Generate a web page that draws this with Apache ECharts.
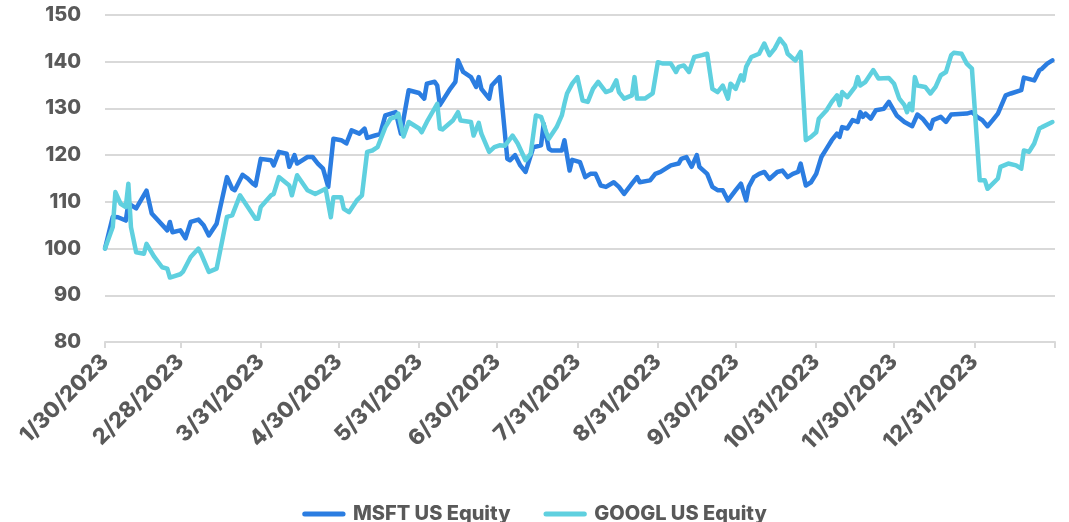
<!DOCTYPE html>
<html>
<head>
<meta charset="utf-8">
<title>MSFT vs GOOGL</title>
<script src="https://cdn.jsdelivr.net/npm/echarts@6/dist/echarts.min.js"></script>
<style>
  html, body { margin: 0; padding: 0; background: #fff; }
  #chart { width: 1069px; height: 522px; }
</style>
</head>
<body>
<div id="chart"></div>
<script>
// x axis: every calendar day from 1/30/2023 to 1/31/2024
const startDate = Date.UTC(2023, 0, 30);
const dayCount = 367;

// labelled ticks on the x axis
const tickLabels = [
  '1/30/2023', '2/28/2023', '3/31/2023', '4/30/2023', '5/31/2023', '6/30/2023',
  '7/31/2023', '8/31/2023', '9/30/2023', '10/31/2023', '11/30/2023', '12/31/2023'
];
const lastTick = '1/31/2024';

const yTicks = { min: 80, max: 150, step: 10 };

// [days since 1/30/2023, indexed value]
const msft = [
  [0, 100], [3, 106.8], [5, 106.7], [8, 106], [9, 109.7], [12, 108.6], [16, 112.4], [18, 107.5],
  [24, 103.9], [25, 105.7], [26, 103.5], [29, 103.9], [31, 102.2], [33, 105.7], [36, 106.2],
  [38, 105], [40, 102.8], [43, 105.3], [47, 115.3], [49, 112.8], [50, 112.5], [53, 115.8],
  [55, 115], [57, 113.9], [58, 113.5], [60, 119.2], [64, 118.9], [65, 117.8], [67, 120.7],
  [70, 120.3], [71, 117.5], [73, 120], [74, 118.2], [78, 119.6], [80, 119.6], [82, 118.2],
  [84, 117.1], [86, 113.2], [88, 123.5], [91, 123.2], [93, 122.5], [95, 125.3], [98, 124.6],
  [100, 125.7], [101, 123.7], [104, 124.2], [106, 124.5], [108, 128.5], [112, 129.2],
  [114, 124.6], [117, 133.9], [121, 133.3], [123, 132.1], [124, 135.3], [127, 135.7],
  [128, 134.9], [129, 130.7], [133, 134.2], [135, 135.7], [136, 140.3], [138, 137.8],
  [141, 136.7], [143, 134.6], [144, 136.7], [145, 134.2], [148, 132.1], [149, 134.9],
  [152, 136.7], [155, 119.2], [156, 118.9], [158, 120], [160, 117.8], [162, 116.4],
  [165, 121.7], [168, 122.1], [169, 126.7], [171, 121.4], [172, 121], [176, 121],
  [177, 123.2], [179, 116.7], [180, 119], [183, 118.5], [185, 115.3], [187, 116], [189, 116],
  [191, 113.5], [193, 113.2], [196, 114.2], [198, 113.2], [200, 111.7], [203, 113.9],
  [205, 115.3], [206, 114.2], [210, 114.6], [212, 116], [214, 116.4], [218, 117.8],
  [221, 118.2], [222, 119.2], [224, 119.6], [226, 117.5], [228, 120], [229, 117.5],
  [232, 116], [234, 113.2], [236, 112.5], [238, 112.5], [240, 110.3], [243, 112.5],
  [245, 113.9], [247, 110.3], [248, 113.2], [250, 115.3], [252, 116], [254, 116.4],
  [256, 114.9], [259, 116.4], [261, 116.7], [263, 115.3], [265, 116], [267, 116.4],
  [268, 118.2], [270, 113.5], [272, 114.2], [274, 116], [276, 119.6], [278, 121.4],
  [280, 123.2], [282, 124.6], [283, 123.9], [284, 126], [286, 125.7], [288, 127.5],
  [290, 127.1], [291, 129.2], [292, 128.2], [293, 128.9], [295, 127.8], [297, 129.6],
  [300, 129.9], [302, 131.4], [305, 128.5], [308, 127.1], [311, 126.2], [313, 128.7],
  [315, 127.8], [318, 125.7], [319, 127.5], [322, 128.2], [324, 127.1], [326, 128.7],
  [332, 128.9], [334, 129.2], [336, 128.2], [338, 127.5], [340, 126.2], [342, 127.5],
  [344, 128.9], [347, 132.8], [349, 133.2], [353, 133.9], [354, 136.6], [358, 136],
  [360, 138.2], [361, 138.5], [363, 139.6], [365, 140.3]
];

const googl = [
  [0, 100], [3, 104.6], [4, 112.1], [6, 109.6], [8, 108.9], [9, 113.9], [10, 104.6],
  [12, 99.2], [15, 98.9], [16, 101], [19, 98.2], [22, 96], [24, 95.7], [25, 93.8],
  [29, 94.5], [30, 95], [33, 98.2], [36, 100], [37, 98.9], [40, 95], [43, 95.7],
  [47, 106.8], [49, 107.1], [52, 111.4], [55, 108.9], [58, 106.4], [59, 106.4],
  [60, 108.9], [64, 111.4], [65, 111.7], [67, 115.3], [71, 113.5], [72, 111.4],
  [74, 115.7], [78, 112.5], [81, 111.7], [85, 112.8], [87, 106.7], [88, 111], [91, 111],
  [92, 108.5], [94, 107.8], [97, 110.3], [99, 111.4], [101, 120.7], [103, 121],
  [105, 121.7], [108, 126], [110, 127.8], [112, 128.2], [113, 128.9], [115, 124],
  [117, 127.1], [119, 126.4], [121, 125.7], [122, 124.9], [124, 127.1], [128, 131],
  [129, 125.7], [130, 125.5], [134, 127.4], [136, 129.2], [137, 127.4], [141, 127.1],
  [142, 124.2], [144, 126.9], [145, 124.6], [148, 120.7], [150, 121.7], [152, 122.1],
  [154, 122], [157, 124.2], [159, 122.5], [162, 118.9], [164, 120.3], [166, 128.5],
  [168, 128.2], [170, 124.9], [171, 123.5], [174, 126], [176, 128.5], [177, 131],
  [178, 133.2], [180, 135.3], [182, 136.7], [184, 131.7], [186, 131.4], [188, 134.2],
  [190, 135.7], [193, 133.5], [195, 133.9], [197, 136], [198, 133.5], [200, 132.1],
  [203, 132.8], [204, 136.7], [205, 132.1], [208, 132.1], [211, 133.2], [213, 139.9],
  [215, 139.6], [218, 139.6], [220, 137.8], [221, 138.9], [223, 139.2], [225, 137.8],
  [227, 141], [230, 141.4], [232, 141.7], [234, 134.2], [236, 133.5], [238, 134.9],
  [240, 132.1], [241, 135.3], [243, 134.2], [245, 137.1], [246, 136], [247, 138.9],
  [249, 141], [252, 141.7], [254, 143.9], [256, 141.4], [258, 142.8], [260, 144.9],
  [262, 143.5], [263, 141.7], [265, 140.7], [266, 140.3], [268, 142.1], [270, 123.2],
  [272, 123.9], [274, 124.9], [275, 127.8], [278, 129.6], [280, 131.4], [282, 132.8],
  [283, 130.7], [284, 133.5], [286, 132.4], [289, 134.6], [290, 136.7], [291, 134.9],
  [293, 135.7], [296, 138.2], [298, 136.4], [302, 136.5], [304, 135.3], [306, 132.1],
  [308, 130.7], [309, 129.2], [310, 131], [311, 129.6], [312, 136.7], [313, 134.9],
  [316, 134.6], [318, 133.2], [320, 134.6], [322, 137.1], [324, 137.8], [326, 141.4],
  [327, 141.9], [330, 141.7], [332, 139.6], [334, 138.5], [337, 114.6], [339, 114.6],
  [340, 112.8], [344, 115], [345, 117.5], [348, 118.2], [351, 117.8], [353, 117.1],
  [354, 121], [356, 120.7], [358, 122.5], [360, 125.7], [361, 126], [365, 127.1]
];

const seriesNames = ['MSFT US Equity', 'GOOGL US Equity'];
const seriesColors = ['#2b7de1', '#5fd0df'];

// build the calendar categories
const categories = [];
for (let i = 0; i < dayCount; i++) {
  const d = new Date(startDate + i * 86400000);
  categories.push((d.getUTCMonth() + 1) + '/' + d.getUTCDate() + '/' + d.getUTCFullYear());
}

const textColor = '#595959';
const gridColor = '#d9d9d9';
const fontFamily = 'Inter, "Open Sans", sans-serif';

const chart = echarts.init(document.getElementById('chart'), null, { renderer: 'canvas' });

chart.setOption({
  animation: false,
  color: seriesColors,
  grid: { left: 105, right: 14, top: 15, bottom: 180, containLabel: false },
  xAxis: {
    type: 'category',
    data: categories,
    boundaryGap: false,
    axisLine: { lineStyle: { color: gridColor, width: 2 } },
    axisTick: {
      show: true,
      length: 6,
      lineStyle: { color: gridColor, width: 2 },
      interval: (i, v) => tickLabels.includes(v) || v === lastTick
    },
    axisLabel: {
      rotate: 45,
      margin: 16,
      color: textColor,
      fontFamily,
      fontWeight: 800,
      fontSize: 22,
      interval: (i, v) => tickLabels.includes(v)
    },
    splitLine: { show: false }
  },
  yAxis: {
    type: 'value',
    min: yTicks.min,
    max: yTicks.max,
    interval: yTicks.step,
    axisLine: { show: false },
    axisTick: { show: false },
    axisLabel: {
      margin: 24,
      color: textColor,
      fontFamily,
      fontWeight: 800,
      fontSize: 20
    },
    splitLine: { lineStyle: { color: gridColor, width: 2 } }
  },
  legend: {
    left: 'center',
    top: 499,
    itemGap: 33,
    itemWidth: 52,
    itemHeight: 5,
    icon: 'path://M3,0 L49,0 A3,3 0 0 1 49,6 L3,6 A3,3 0 0 1 3,0 Z',
    textStyle: { color: textColor, fontFamily, fontWeight: 800, fontSize: 20, padding: [0, 0, 0, -2] },
    data: seriesNames
  },
  series: [msft, googl].map((s, k) => ({
    name: seriesNames[k],
    type: 'line',
    data: s,
    showSymbol: false,
    symbol: 'none',
    lineStyle: { width: 4.5, color: seriesColors[k], cap: 'round', join: 'round' },
    itemStyle: { color: seriesColors[k] }
  }))
});
</script>
</body>
</html>
